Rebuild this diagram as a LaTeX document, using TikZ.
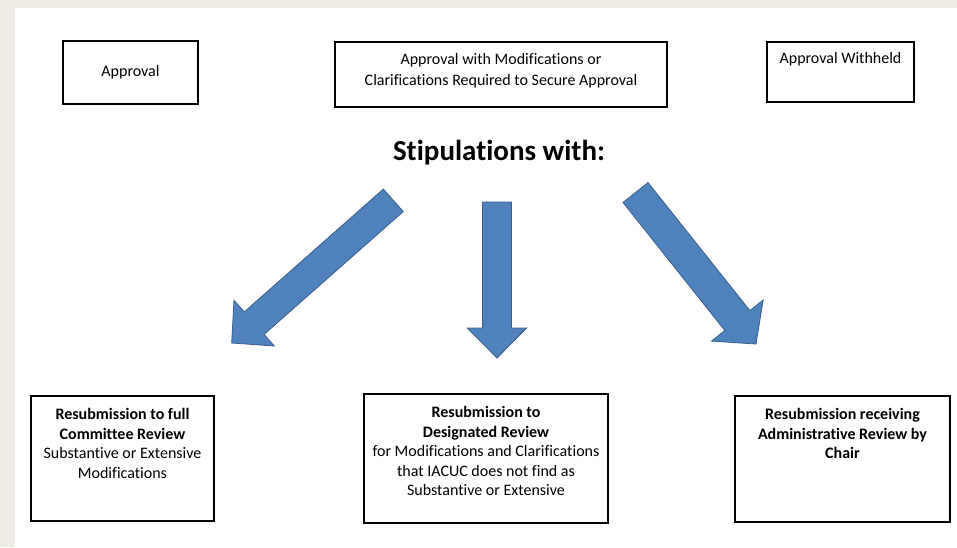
\documentclass[tikz,border=0pt]{standalone}
\usepackage{fontspec}
\setmainfont[Ligatures=NoCommon]{Carlito}
\usepackage{xcolor}
\usetikzlibrary{positioning, calc}

\definecolor{bleu}{RGB}{79,129,189}
\definecolor{bleufonce}{RGB}{58,95,140}
\definecolor{beige}{RGB}{239,236,230}

\begin{document}
\begin{tikzpicture}[x=1pt, y=-1pt,
    boite/.style={draw, line width=1.6pt, inner sep=0pt},
    texte/.style={align=center, inner sep=0pt, font=\fontsize{16}{19.5}\selectfont},
    fleche/.style={fill=bleu, draw=bleufonce, line width=0.8pt}]

    % Fond
    \fill[beige] (0,0) rectangle (957,547);
    \fill[white] (15,8) rectangle (957,547);
    \useasboundingbox (0,0) rectangle (957,547);

    % Décisions
    \node[boite, minimum width=135pt, minimum height=63pt] (appr) at (130.5,72.5) {};
    \node[boite, minimum width=332pt, minimum height=65pt] (modif) at (501,74.5) {};
    \node[boite, minimum width=147pt, minimum height=60pt] (refus) at (840.5,72) {};
    \node[texte] (t-appr) at (appr) {Approval};
    \node[texte, below=12pt of modif.north, font=\fontsize{16}{20.5}\selectfont] (t-modif)
        {Approval with Modifications or\\Clarifications Required to Secure Approval};
    \node[texte, below=11pt of refus.north] (t-refus) {Approval Withheld};

    \node[anchor=base, font=\fontsize{29}{34}\selectfont\bfseries] (stip) at (499,160) {Stipulations with:};

    % Types de révision
    \node[boite, minimum width=183pt, minimum height=125pt] (complet) at (122.5,458.5) {};
    \node[boite, minimum width=244pt, minimum height=129pt] (designe) at (486,458.5) {};
    \node[boite, minimum width=215pt, minimum height=126pt] (admin) at (842.5,459) {};
    \node[texte, below=13pt of complet.north] (t-complet)
        {\textbf{Resubmission to full}\\\textbf{Committee Review}\\Substantive or Extensive\\Modifications};
    \node[texte, below=13pt of designe.north] (t-designe)
        {\textbf{Resubmission to}\\\textbf{Designated Review}\\for Modifications and Clarifications\\that IACUC does not find as\\Substantive or Extensive};
    \node[texte, below=13pt of admin.north] (t-admin)
        {\textbf{Resubmission receiving}\\\textbf{Administrative Review by}\\\textbf{Chair}};

    % Flèches
    \coordinate (q1) at (393.3,200.3); \coordinate (p1) at (231.7,343);
    \coordinate (q2) at (497,202);     \coordinate (p2) at (497,358);
    \coordinate (q3) at (635.5,192.5); \coordinate (p3) at (756,344);
    \foreach \i/\s/\h in {1/15/30.5, 2/14.5/29.7, 3/16/33} {
        \coordinate (c\i) at ($(p\i)!30pt!(q\i)$);
        \draw[fleche] ($(q\i)!\s pt!90:(p\i)$) -- ($(c\i)!\s pt!90:(p\i)$) -- ($(c\i)!\h pt!90:(p\i)$)
            -- (p\i) -- ($(c\i)!\h pt!-90:(p\i)$) -- ($(c\i)!\s pt!-90:(p\i)$) -- ($(q\i)!\s pt!-90:(p\i)$) -- cycle;
    }

\end{tikzpicture}
\end{document}
